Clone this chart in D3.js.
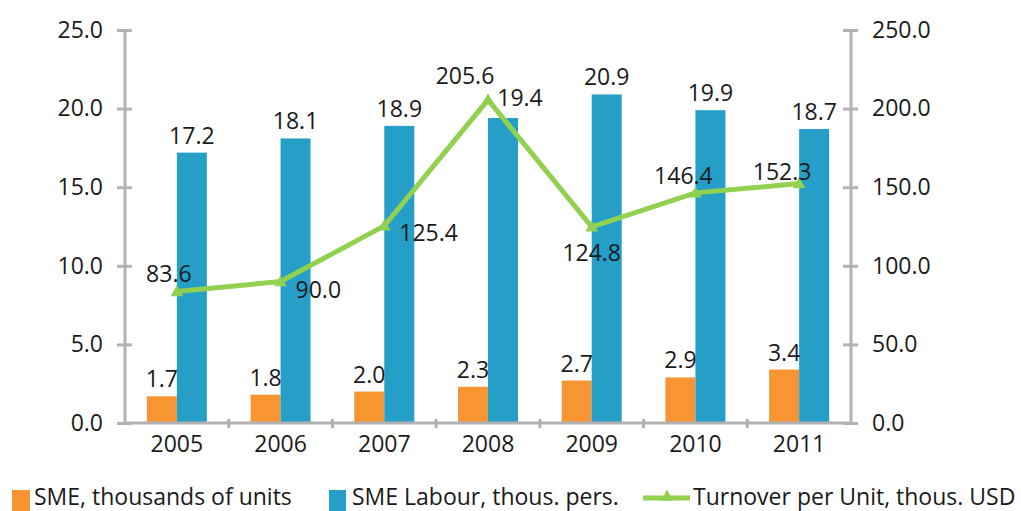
<!DOCTYPE html>
<html><head><meta charset="utf-8">
<script src="https://cdn.jsdelivr.net/npm/d3@7"></script>
<style>body{margin:0;background:#fff}svg{display:block}text{font-family:"Open Sans",sans-serif;fill:#1a1a1a}</style>
</head><body><svg id="c" width="1021" height="511"></svg>
<script>
const years = ["2005","2006","2007","2008","2009","2010","2011"];
const smeUnits = [1.7,1.8,2.0,2.3,2.7,2.9,3.4];
const smeLabour = [17.2,18.1,18.9,19.4,20.9,19.9,18.7];
const turnover = [83.6,90.0,125.4,205.6,124.8,146.4,152.3];
const leftTicks = [0,5,10,15,20,25];
const rightTicks = [0,50,100,150,200,250];
const seriesNames = ["SME, thousands of units","SME Labour, thous. pers.","Turnover per Unit, thous. USD"];
// label offsets for line labels [dx, dy, anchor]
const lineLabelPos = [[-8,-10,"middle"],[15,16,"start"],[15,15,"start"],[-23,-16,"middle"],[0,34,"middle"],[-12,-9,"middle"],[-17,-4,"middle"]];

const svg = d3.select("#c");
const X0=125, X1=851, Y0=423, Y1=30;
const fs = 23;
const x = d3.scaleBand().domain(years).range([X0,X1]);
const yL = d3.scaleLinear().domain([0,25]).range([Y0,Y1]);
const yR = d3.scaleLinear().domain([0,250]).range([Y0,Y1]);
const bw = 30;
const orange="#F79532", blue="#259FC8", green="#92D050", grey="#B2B2B4";

// bars
svg.selectAll("rect.o").data(years).join("rect").attr("class","o")
  .attr("x",d=>x(d)+x.bandwidth()/2-bw).attr("width",bw)
  .attr("y",(d,i)=>yL(smeUnits[i])).attr("height",(d,i)=>Y0-yL(smeUnits[i])).attr("fill",orange);
svg.selectAll("rect.b").data(years).join("rect").attr("class","b")
  .attr("x",d=>x(d)+x.bandwidth()/2).attr("width",bw)
  .attr("y",(d,i)=>yL(smeLabour[i])).attr("height",(d,i)=>Y0-yL(smeLabour[i])).attr("fill",blue);

// axes
const gL = svg.append("g").attr("transform",`translate(${X0},0)`)
  .call(d3.axisLeft(yL).tickValues(leftTicks).tickFormat(d3.format(".1f")).tickSize(7).tickPadding(15));
const gR = svg.append("g").attr("transform",`translate(${X1},0)`)
  .call(d3.axisRight(yR).tickValues(rightTicks).tickFormat(d3.format(".1f")).tickSize(7).tickPadding(14));
const gB = svg.append("g").attr("transform",`translate(0,${Y0})`)
  .call(d3.axisBottom(x).tickSize(0).tickPadding(7));
[gL,gR,gB].forEach(g=>{
  g.select(".domain").attr("stroke",grey).attr("stroke-width",3);
  g.selectAll(".tick line").attr("stroke",grey).attr("stroke-width",3);
  g.selectAll(".tick text").attr("font-size",fs).attr("font-family","Open Sans").attr("fill","#1a1a1a");
});
gL.select(".domain").attr("d",`M0,${Y1}V${Y0}`);
gR.select(".domain").attr("d",`M0,${Y1}V${Y0}`);
gB.select(".domain").attr("d",`M${X0},0H${X1}`);
gL.selectAll(".tick line").attr("x1",-8).attr("x2",7);
gR.selectAll(".tick line").attr("x1",-8).attr("x2",7);
gB.selectAll(".tick text").attr("dy","0.95em");
// category boundary ticks
svg.append("g").selectAll("line").data(years.slice(1)).join("line")
  .attr("x1",d=>x(d)).attr("x2",d=>x(d)).attr("y1",Y0-4).attr("y2",Y0+5)
  .attr("stroke",grey).attr("stroke-width",3);

// bar labels
svg.selectAll("text.lo").data(years).join("text").attr("class","lo")
  .attr("x",d=>x(d)+x.bandwidth()/2-bw/2).attr("y",(d,i)=>yL(smeUnits[i])-9)
  .attr("text-anchor","middle").attr("font-size",fs).text((d,i)=>smeUnits[i].toFixed(1));
svg.selectAll("text.lb").data(years).join("text").attr("class","lb")
  .attr("x",(d,i)=>x(d)+x.bandwidth()/2+bw/2+(i===3?17:0)).attr("y",(d,i)=>(i===3?yL(smeLabour[i])-12:yL(smeLabour[i])-9))
  .attr("text-anchor","middle").attr("font-size",fs).text((d,i)=>smeLabour[i].toFixed(1));

// line
const cx = d=>x(d)+x.bandwidth()/2;
svg.append("path").datum(years)
  .attr("d",d3.line().x(cx).y((d,i)=>yR(turnover[i])))
  .attr("fill","none").attr("stroke",green).attr("stroke-width",5).attr("stroke-linejoin","miter");
svg.selectAll("path.m").data(years).join("path").attr("class","m")
  .attr("d",d3.symbol(d3.symbolTriangle,70)())
  .attr("transform",(d,i)=>`translate(${cx(d)},${yR(turnover[i])+1})`).attr("fill",green);
svg.selectAll("text.ll").data(years).join("text").attr("class","ll")
  .attr("x",(d,i)=>cx(d)+lineLabelPos[i][0]).attr("y",(d,i)=>yR(turnover[i])+lineLabelPos[i][1])
  .attr("text-anchor",(d,i)=>lineLabelPos[i][2]).attr("font-size",fs).text((d,i)=>turnover[i].toFixed(1));

// legend
const lg = svg.append("g").attr("font-size",fs);
lg.append("rect").attr("x",12).attr("y",490).attr("width",18).attr("height",21).attr("fill",orange);
lg.append("text").attr("x",34).attr("y",505).text(seriesNames[0]);
lg.append("rect").attr("x",329).attr("y",490).attr("width",17).attr("height",21).attr("fill",blue);
lg.append("text").attr("x",352).attr("y",505).text(seriesNames[1]);
lg.append("line").attr("x1",643).attr("x2",690).attr("y1",498).attr("y2",498).attr("stroke",green).attr("stroke-width",5);
lg.append("path").attr("d",d3.symbol(d3.symbolTriangle,70)()).attr("transform","translate(667,497)").attr("fill",green);
lg.append("text").attr("x",693).attr("y",505).text(seriesNames[2]);
</script></body></html>
